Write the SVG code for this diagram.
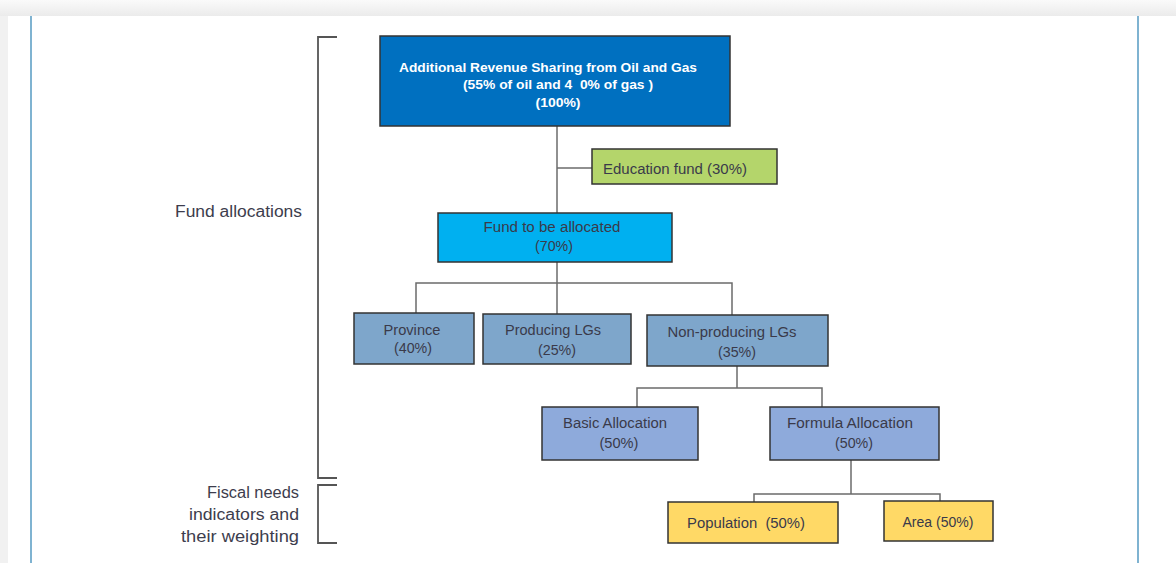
<svg xmlns="http://www.w3.org/2000/svg" width="1176" height="563" viewBox="0 0 1176 563">
<defs>
<linearGradient id="topband" x1="0" y1="0" x2="0" y2="1"><stop offset="0" stop-color="#fafafa"/><stop offset="1" stop-color="#ebebeb"/></linearGradient>
<style>
.box{stroke:#333;stroke-width:1.5}
.t{font-family:"Liberation Sans",Arial,sans-serif;font-size:14px;fill:#3a3a4a;text-anchor:middle;white-space:pre}
.tw{font-family:"Liberation Sans",Arial,sans-serif;font-size:13.5px;fill:#fff;font-weight:bold;text-anchor:middle;white-space:pre}
.lab{font-family:"Liberation Sans",Arial,sans-serif;font-size:16px;fill:#3d3d4d;text-anchor:end}
.con{fill:none;stroke:#6b6b6b;stroke-width:1.5}
.br{fill:none;stroke:#555;stroke-width:1.8}
</style>
</defs>
<rect x="0" y="0" width="1176" height="563" fill="#f1f1f1"/>
<rect x="0" y="0" width="1176" height="16" fill="url(#topband)"/>
<rect x="8" y="16" width="1168" height="547" fill="#ffffff"/>
<line x1="31" y1="16" x2="31" y2="563" stroke="#7fb3d1" stroke-width="2"/>
<line x1="1138" y1="16" x2="1138" y2="563" stroke="#7fb3d1" stroke-width="2"/>

<g id="brackets">
<path class="br" d="M337,37 H318 V478 H337"/>
<path class="br" d="M337,485 H318 V543 H337"/>
</g>
<g id="labels">
<text class="lab" x="302" y="217" textLength="127" lengthAdjust="spacingAndGlyphs">Fund allocations</text>
<text class="lab" x="299" y="498" textLength="92" lengthAdjust="spacingAndGlyphs">Fiscal needs</text>
<text class="lab" x="299" y="520" textLength="110" lengthAdjust="spacingAndGlyphs">indicators and</text>
<text class="lab" x="299" y="542" textLength="118" lengthAdjust="spacingAndGlyphs">their weighting</text>
</g>

<g id="connectors">
<path class="con" d="M557,126 V213"/>
<path class="con" d="M557,168 H592"/>
<path class="con" d="M557,262 V283"/>
<path class="con" d="M416,313 V283 H732 V315"/>
<path class="con" d="M557,283 V314"/>
<path class="con" d="M737,366 V388"/>
<path class="con" d="M637,407 V388 H822 V407"/>
<path class="con" d="M851,460 V494"/>
<path class="con" d="M754,502 V494 H940 V501"/>
</g>

<g id="n-top">
<rect class="box" x="380" y="36" width="350" height="90" fill="#0070c0"/>
<text class="tw" x="548" y="72" textLength="298" lengthAdjust="spacingAndGlyphs">Additional Revenue Sharing from Oil and Gas</text>
<text class="tw" x="558" y="89" textLength="190" lengthAdjust="spacingAndGlyphs">(55% of oil and 4  0% of gas )</text>
<text class="tw" x="558" y="107" textLength="45" lengthAdjust="spacingAndGlyphs">(100%)</text>
</g>
<g id="n-edu">
<rect class="box" x="592" y="149" width="185" height="35" fill="#b4d56b"/>
<text class="t" x="675" y="174" textLength="144" lengthAdjust="spacingAndGlyphs">Education fund (30%)</text>
</g>
<g id="n-fund">
<rect class="box" x="438" y="213" width="234" height="49" fill="#00b0f0"/>
<text class="t" x="552" y="232" textLength="137" lengthAdjust="spacingAndGlyphs">Fund to be allocated</text>
<text class="t" x="554" y="251" textLength="38" lengthAdjust="spacingAndGlyphs">(70%)</text>
</g>
<g id="n-province">
<rect class="box" x="354" y="313" width="120" height="51" fill="#7ea6cb"/>
<text class="t" x="412" y="335" textLength="57" lengthAdjust="spacingAndGlyphs">Province</text>
<text class="t" x="413" y="353" textLength="38" lengthAdjust="spacingAndGlyphs">(40%)</text>
</g>
<g id="n-producing">
<rect class="box" x="483" y="314" width="148" height="50" fill="#7ea6cb"/>
<text class="t" x="553" y="335" textLength="96" lengthAdjust="spacingAndGlyphs">Producing LGs</text>
<text class="t" x="557" y="355" textLength="38" lengthAdjust="spacingAndGlyphs">(25%)</text>
</g>
<g id="n-nonproducing">
<rect class="box" x="647" y="315" width="181" height="51" fill="#7ea6cb"/>
<text class="t" x="732" y="337" textLength="129" lengthAdjust="spacingAndGlyphs">Non-producing LGs</text>
<text class="t" x="737" y="357" textLength="38" lengthAdjust="spacingAndGlyphs">(35%)</text>
</g>
<g id="n-basic">
<rect class="box" x="542" y="407" width="156" height="53" fill="#8eaadb"/>
<text class="t" x="615" y="428" textLength="104" lengthAdjust="spacingAndGlyphs">Basic Allocation</text>
<text class="t" x="619" y="448" textLength="39" lengthAdjust="spacingAndGlyphs">(50%)</text>
</g>
<g id="n-formula">
<rect class="box" x="770" y="407" width="169" height="53" fill="#8eaadb"/>
<text class="t" x="850" y="428" textLength="126" lengthAdjust="spacingAndGlyphs">Formula Allocation</text>
<text class="t" x="854" y="448" textLength="38" lengthAdjust="spacingAndGlyphs">(50%)</text>
</g>
<g id="n-population">
<rect class="box" x="668" y="502" width="170" height="41" fill="#ffd966"/>
<text class="t" x="746" y="528" textLength="118" lengthAdjust="spacingAndGlyphs">Population  (50%)</text>
</g>
<g id="n-area">
<rect class="box" x="884" y="501" width="109" height="40" fill="#ffd966"/>
<text class="t" x="938" y="527" textLength="71" lengthAdjust="spacingAndGlyphs">Area (50%)</text>
</g>
</svg>
